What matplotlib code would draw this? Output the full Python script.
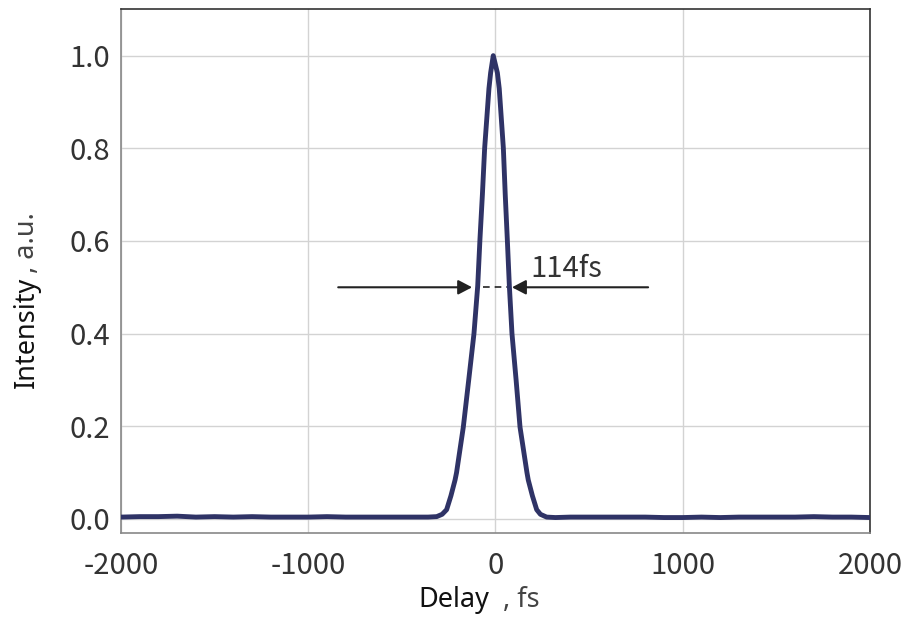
import matplotlib
matplotlib.use("Agg")
import matplotlib.pyplot as plt

# ---- data ----
delay_fs = [-2000, -1900, -1800, -1700, -1600, -1500, -1400, -1300, -1200, -1100,
            -1000, -900, -800, -700, -600, -500, -420, -360, -314, -285, -261,
            -238, -216, -208, -172, -143, -115, -95, -83, -70, -58, -35, -26, -12,
            10, 20, 42, 52, 63, 74, 88, 110, 131, 168, 175, 197, 220, 240, 273,
            320, 400, 500, 600, 700, 800, 900, 1000, 1100, 1200, 1300, 1400, 1500,
            1600, 1700, 1800, 1900, 2000]
intensity = [0.004, 0.005, 0.005, 0.006, 0.004, 0.005, 0.004, 0.005, 0.004, 0.004,
             0.004, 0.005, 0.004, 0.004, 0.004, 0.004, 0.004, 0.004, 0.005, 0.010, 0.020,
             0.050, 0.084, 0.100, 0.198, 0.300, 0.400, 0.503, 0.604, 0.700, 0.800, 0.929, 0.963, 1.000,
             0.963, 0.929, 0.800, 0.700, 0.604, 0.503, 0.400, 0.300, 0.198, 0.100, 0.084, 0.050, 0.020, 0.010, 0.004,
             0.003, 0.004, 0.004, 0.004, 0.004, 0.004, 0.003, 0.003, 0.004, 0.003, 0.004, 0.004, 0.004,
             0.004, 0.005, 0.004, 0.004, 0.003]

xticks = [-2000, -1000, 0, 1000, 2000]
yticks = [0.0, 0.2, 0.4, 0.6, 0.8, 1.0]
fwhm_label = "114fs"
arrow_left = (-840, -125)
arrow_right = (815, 88)
fwhm_dash = (-67, 61)
half_level = 0.5

tick_font = ["Noto Sans CJK SC", "DejaVu Sans"]
label_font = ["Noto Sans", "DejaVu Sans"]

fig = plt.figure(figsize=(9.1, 6.19), dpi=100)
ax = fig.add_axes([121/910, 1 - 533.3/619, (870-121)/910, (533.3-9.3)/619])

ax.plot(delay_fs, intensity, color="#2f3366", lw=3.5, solid_joinstyle="round",
        solid_capstyle="round", zorder=3)

ax.set_xlim(-2000, 2000)
ax.set_ylim(-0.031, 1.10)
ax.set_xticks(xticks)
ax.set_yticks(yticks)
ax.set_xticklabels([f"{v}" for v in xticks])
ax.set_yticklabels([f"{v:.1f}" for v in yticks])
ax.grid(True, color="#d3d3d3", lw=1.0, zorder=0)
ax.tick_params(axis="both", length=0, labelsize=21, labelcolor="#333333")
ax.tick_params(axis="x", pad=13)
ax.tick_params(axis="y", pad=8)
for lab in ax.get_xticklabels() + ax.get_yticklabels():
    lab.set_family(tick_font)
    lab.set_fontweight("light")

for s in ["top", "right"]:
    ax.spines[s].set_color("#333333")
    ax.spines[s].set_linewidth(1.2)
for s in ["left", "bottom"]:
    ax.spines[s].set_color("#888888")
    ax.spines[s].set_linewidth(1.2)

# FWHM arrows
aprops = dict(arrowstyle="-|>,head_length=0.42,head_width=0.22", color="#222222",
              lw=1.5, mutation_scale=20, shrinkA=0, shrinkB=0)
ax.annotate("", xy=(arrow_left[1], half_level), xytext=(arrow_left[0], half_level),
            arrowprops=aprops, zorder=4)
ax.annotate("", xy=(arrow_right[1], half_level), xytext=(arrow_right[0], half_level),
            arrowprops=aprops, zorder=4)
ax.plot(fwhm_dash, [half_level, half_level], color="#222222", lw=1.2,
        ls=(0, (4, 3)), zorder=2)
ax.text(185, 0.522, fwhm_label, fontsize=21, color="#333333", family=tick_font,
        fontweight="light", ha="left", va="baseline")

# axis labels (two-tone)
fig.text(418/910, 1 - 607/619, "Delay", fontsize=19.5, color="#111111",
         family=label_font, ha="left", va="baseline")
fig.text(540/910, 1 - 607/619, ", fs", fontsize=19.5, color="#444444",
         family=label_font, ha="right", va="baseline")
fig.text(34/910, 1 - 388/619, "Intensity", fontsize=19.5, color="#111111",
         family=label_font, ha="left", va="baseline", rotation=90,
         rotation_mode="anchor")
fig.text(34/910, 1 - 212/619, ", a.u.", fontsize=19.5, color="#444444",
         family=label_font, ha="right", va="baseline", rotation=90,
         rotation_mode="anchor")

fig.savefig("out.png", dpi=100)
